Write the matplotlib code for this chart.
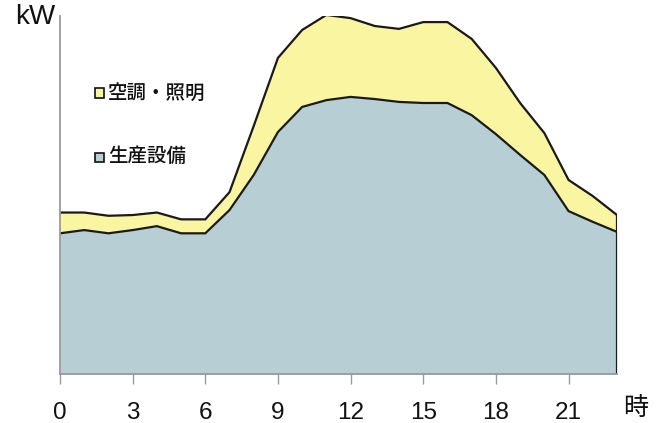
import matplotlib
matplotlib.use("Agg")
import matplotlib.pyplot as plt
from matplotlib.patches import Rectangle

plt.rcParams['font.family'] = ['Liberation Sans', 'Noto Sans CJK JP', 'DejaVu Sans']

hours = list(range(24))
production = [39.3, 40.2, 39.3, 40.2, 41.3, 39.3, 39.3, 45.8, 55.6, 67.6, 74.6, 76.5,
              77.4, 76.8, 76.0, 75.7, 75.7, 72.3, 67.0, 61.2, 55.6, 45.5, 42.5, 39.7]
hvac_light = [5.8, 4.9, 4.9, 4.2, 3.8, 3.9, 3.9, 5.0, 13.7, 20.7, 21.5, 23.8,
              22.0, 20.4, 20.4, 22.6, 22.6, 21.3, 18.5, 14.5, 11.7, 8.7, 7.2, 4.7]
xticks = [0, 3, 6, 9, 12, 15, 18, 21]
labels = ['空調・照明', '生産設備']
unit_y = 'kW'
unit_x = '時'

c_prod = '#b7cfd4'
c_hvac = '#faf5a0'

W, H = 661, 423
fig = plt.figure(figsize=(W / 100, H / 100), dpi=100)
ax = fig.add_axes([60 / W, 1 - 374 / H, (617 - 60) / W, (374 - 16) / H])

total = [p + h for p, h in zip(production, hvac_light)]
ax.fill_between(hours, 0, production, color=c_prod, lw=0)
ax.fill_between(hours, production, total, color=c_hvac, lw=0)
ax.plot(hours, production, color='#1a1a1a', lw=1.6, solid_joinstyle='miter')
ax.plot(hours, total, color='#1a1a1a', lw=1.6, solid_joinstyle='miter')
ax.plot([hours[-1], hours[-1]], [0, total[-1]], color='#1a1a1a', lw=1.6)

ax.set_xlim(0, 23)
ax.set_ylim(0, 100)
ax.set_xticks(xticks)
ax.set_xticklabels([str(t) for t in xticks], fontsize=17.5)
ax.set_yticks([])
for s in ['top', 'right']:
    ax.spines[s].set_visible(False)
for s in ['left', 'bottom']:
    ax.spines[s].set_color('#9a9a9a')
    ax.spines[s].set_linewidth(1.3)
ax.tick_params(axis='x', direction='out', length=7, width=1, color='#9a9a9a', pad=13,
               labelcolor='#111111')

fig.text(15 / W, 1 - 17 / H, unit_y, fontsize=20, va='center', ha='left', color='#111111')
fig.text(636 / W, 1 - 408 / H, unit_x, fontsize=18, va='center', ha='center', color='#111111')

for i, (lab, col) in enumerate(zip(labels, [c_hvac, c_prod])):
    yc = 93 + 64 * i
    fig.add_artist(Rectangle((95 / W, 1 - (yc + 4.5) / H), 9 / W, 9 / H,
                             transform=fig.transFigure, facecolor=col,
                             edgecolor='#111111', lw=1.2))
    fig.text(108 / W, 1 - yc / H, lab, fontsize=14, fontweight='medium',
             va='center', ha='left', color='#111111')

fig.savefig('out.png', dpi=100)
